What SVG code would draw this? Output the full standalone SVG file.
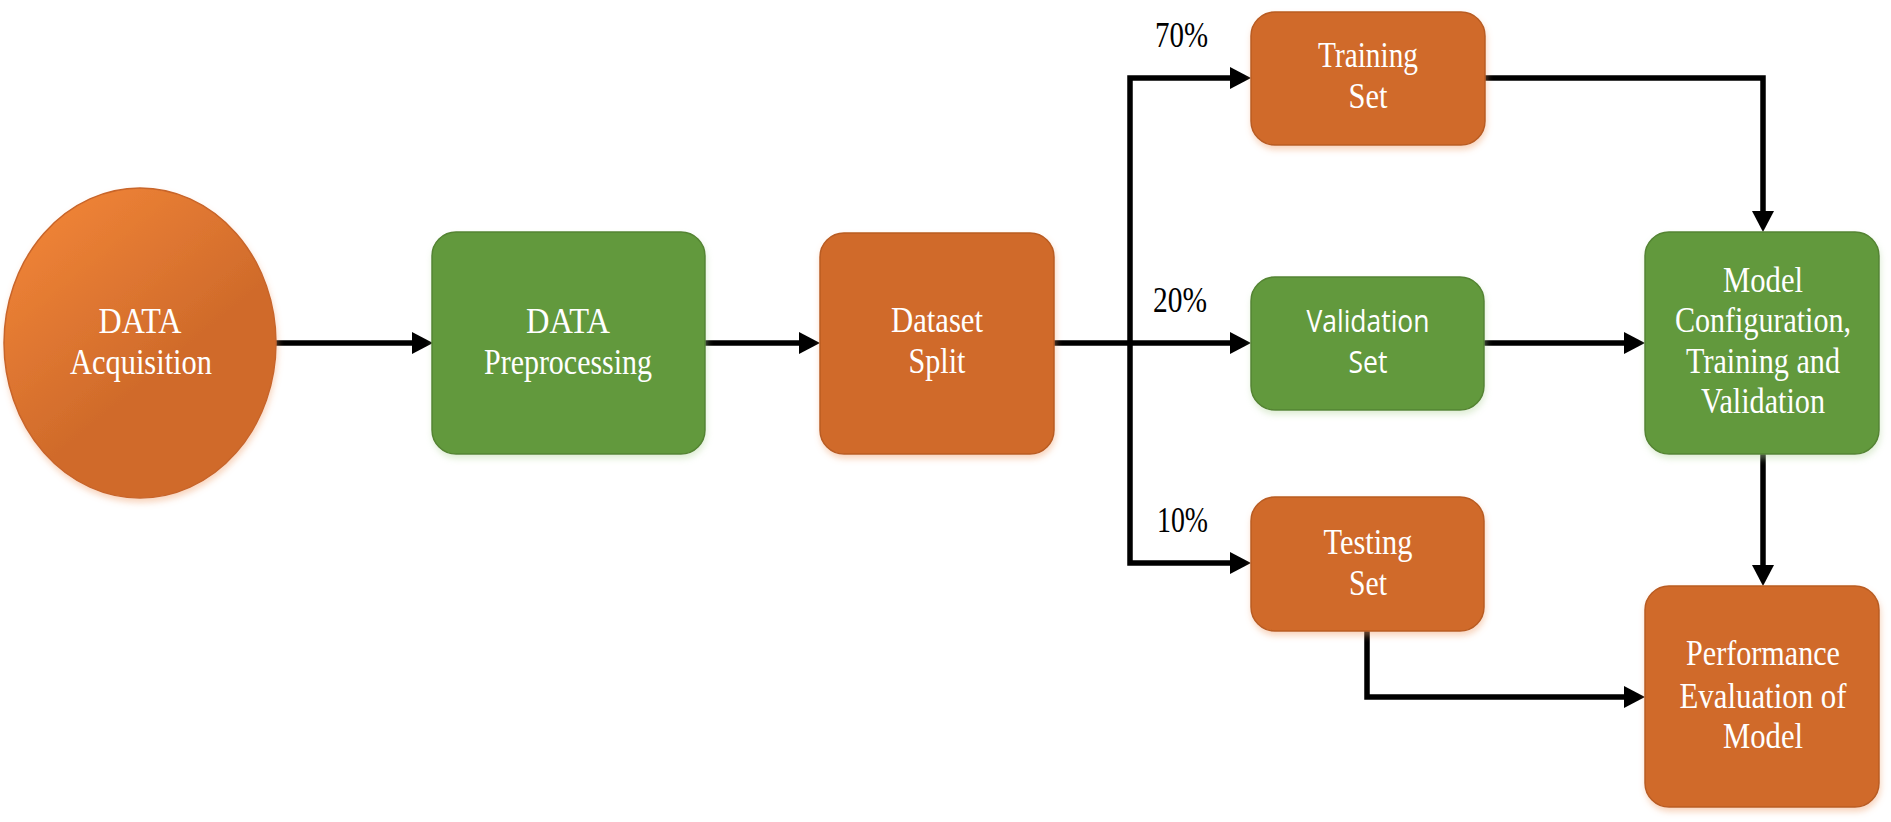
<svg xmlns="http://www.w3.org/2000/svg" width="1891" height="822" viewBox="0 0 1891 822">
<defs>
<style>
.or{fill:#D06B2B;stroke:#B95C22;stroke-width:1.5;filter:url(#sh)}
.gr{fill:#62993D;stroke:#548432;stroke-width:1.5;filter:url(#shg)}
.t{font-family:"Liberation Serif","Times New Roman",serif;font-size:35px;fill:#FFFFFF;text-anchor:middle}
.s{font-family:"Open Sans","Liberation Sans",sans-serif;font-size:31px;fill:#FFFFFF;text-anchor:middle}
.p{font-family:"Liberation Serif","Times New Roman",serif;font-size:35px;fill:#000000}
.c{fill:none;stroke:#000000;stroke-width:5.5;stroke-linecap:round;stroke-linejoin:miter}
</style>
<marker id="ah" markerUnits="userSpaceOnUse" markerWidth="22" markerHeight="24" refX="0" refY="12" orient="auto" viewBox="0 0 22 24">
<path d="M0,1 L21,12 L0,23 Z" fill="#000000"/>
</marker>
<linearGradient id="eg" x1="0.15" y1="0.05" x2="0.55" y2="0.6">
<stop offset="0" stop-color="#F08437"/>
<stop offset="1" stop-color="#D06B2B"/>
</linearGradient>
<filter id="sh" x="-10%" y="-10%" width="125%" height="130%">
<feDropShadow dx="1" dy="4" stdDeviation="3" flood-color="#F0A070" flood-opacity="0.45"/>
</filter>
<filter id="shg" x="-10%" y="-10%" width="125%" height="130%">
<feDropShadow dx="1" dy="4" stdDeviation="3" flood-color="#B8D8A0" flood-opacity="0.45"/>
</filter>
</defs>
<rect width="1891" height="822" fill="#FFFFFF"/>

<g id="connectors">
<path class="c" d="M276,343 H412" marker-end="url(#ah)"/>
<path class="c" d="M705,343 H799" marker-end="url(#ah)"/>
<path class="c" d="M1054,343 H1230" marker-end="url(#ah)"/>
<path class="c" d="M1130,343 V78 H1230" marker-end="url(#ah)"/>
<path class="c" d="M1130,343 V563 H1230" marker-end="url(#ah)"/>
<path class="c" d="M1485,78 H1763 V211" marker-end="url(#ah)"/>
<path class="c" d="M1485,343 H1624" marker-end="url(#ah)"/>
<path class="c" d="M1763,454 V565" marker-end="url(#ah)"/>
<path class="c" d="M1367,631 V697 H1624" marker-end="url(#ah)"/>
<text class="p" x="1155" y="47" textLength="53" lengthAdjust="spacingAndGlyphs">70%</text>
<text class="p" x="1153" y="312" textLength="54" lengthAdjust="spacingAndGlyphs">20%</text>
<text class="p" x="1157" y="532" textLength="51" lengthAdjust="spacingAndGlyphs">10%</text>
</g>

<g id="acquisition">
<ellipse cx="140" cy="343" rx="136" ry="155" fill="url(#eg)" stroke="#C8652A" stroke-width="1.5" filter="url(#sh)"/>
<text class="t" x="140" y="333" textLength="83" lengthAdjust="spacingAndGlyphs">DATA</text>
<text class="t" x="141" y="374" textLength="142" lengthAdjust="spacingAndGlyphs">Acquisition</text>
</g>

<g id="preprocessing">
<rect class="gr" x="432" y="232" width="273" height="222" rx="24" ry="24"/>
<text class="t" x="568" y="333" textLength="84" lengthAdjust="spacingAndGlyphs">DATA</text>
<text class="t" x="568" y="374" textLength="168" lengthAdjust="spacingAndGlyphs">Preprocessing</text>
</g>

<g id="split">
<rect class="or" x="820" y="233" width="234" height="221" rx="24" ry="24"/>
<text class="t" x="937" y="332" textLength="92" lengthAdjust="spacingAndGlyphs">Dataset</text>
<text class="t" x="937" y="373" textLength="57" lengthAdjust="spacingAndGlyphs">Split</text>
</g>

<g id="training">
<rect class="or" x="1251" y="12" width="234" height="133" rx="24" ry="24"/>
<text class="t" x="1368" y="67" textLength="100" lengthAdjust="spacingAndGlyphs">Training</text>
<text class="t" x="1368" y="108" textLength="39" lengthAdjust="spacingAndGlyphs">Set</text>
</g>

<g id="validation">
<rect class="gr" x="1251" y="277" width="233" height="133" rx="24" ry="24"/>
<text class="s" x="1368" y="332" textLength="123" lengthAdjust="spacingAndGlyphs">Validation</text>
<text class="s" x="1368" y="373" textLength="39" lengthAdjust="spacingAndGlyphs">Set</text>
</g>

<g id="testing">
<rect class="or" x="1251" y="497" width="233" height="134" rx="24" ry="24"/>
<text class="t" x="1368" y="554" textLength="89" lengthAdjust="spacingAndGlyphs">Testing</text>
<text class="t" x="1368" y="595" textLength="38" lengthAdjust="spacingAndGlyphs">Set</text>
</g>

<g id="model">
<rect class="gr" x="1645" y="232" width="234" height="222" rx="24" ry="24"/>
<text class="t" x="1763" y="292" textLength="80" lengthAdjust="spacingAndGlyphs">Model</text>
<text class="t" x="1763" y="332" textLength="176" lengthAdjust="spacingAndGlyphs">Configuration,</text>
<text class="t" x="1763" y="373" textLength="154" lengthAdjust="spacingAndGlyphs">Training and</text>
<text class="t" x="1763" y="413" textLength="124" lengthAdjust="spacingAndGlyphs">Validation</text>
</g>

<g id="performance">
<rect class="or" x="1645" y="586" width="234" height="221" rx="24" ry="24"/>
<text class="t" x="1763" y="665" textLength="154" lengthAdjust="spacingAndGlyphs">Performance</text>
<text class="t" x="1763" y="708" textLength="167" lengthAdjust="spacingAndGlyphs">Evaluation of</text>
<text class="t" x="1763" y="748" textLength="80" lengthAdjust="spacingAndGlyphs">Model</text>
</g>
</svg>
